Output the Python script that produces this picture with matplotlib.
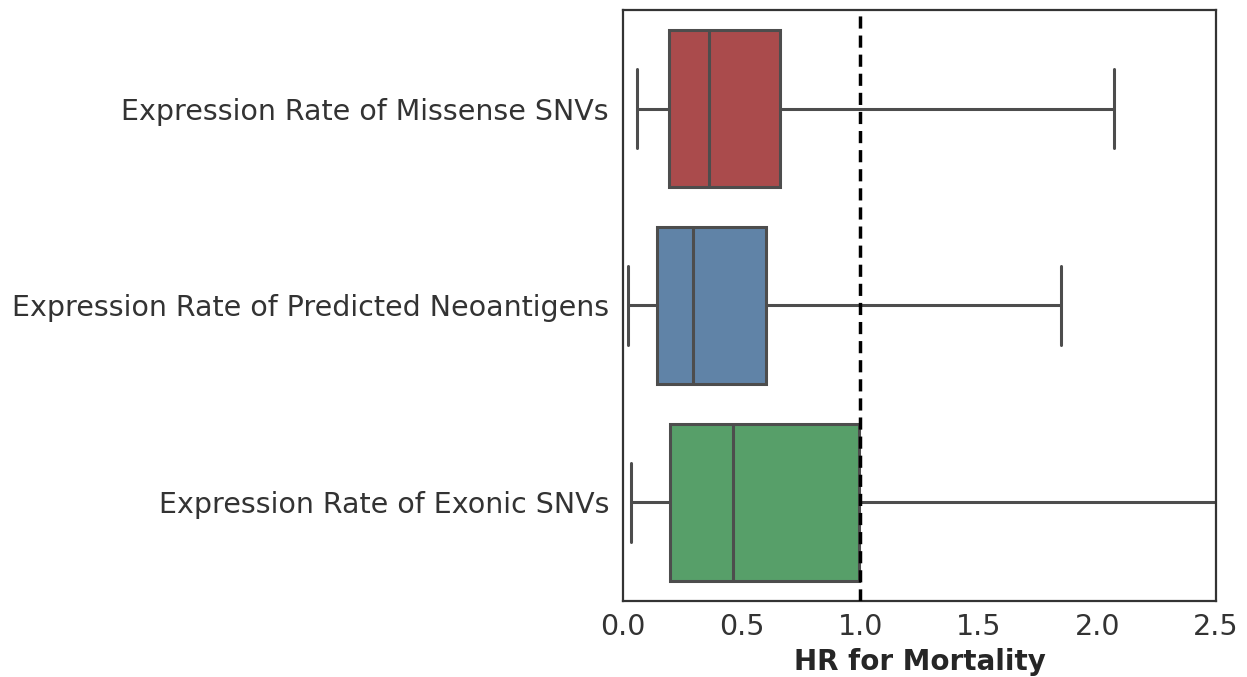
import matplotlib
matplotlib.use("Agg")
import matplotlib.pyplot as plt
import seaborn as sns

labels = ["Expression Rate of Missense SNVs",
          "Expression Rate of Predicted Neoantigens",
          "Expression Rate of Exonic SNVs"]
whislo = [0.059, 0.021, 0.034]
q1 = [0.194, 0.143, 0.198]
med = [0.363, 0.295, 0.464]
q3 = [0.662, 0.603, 0.995]
whishi = [2.07, 1.847, 2.9]
xticks = [0.0, 0.5, 1.0, 1.5, 2.0, 2.5]
colors = ["#AA4B4C", "#6083A7", "#579F69"]

sns.set_style("white")
plt.rcParams['font.family'] = ['DejaVu Sans']

gray = "#4d4d4d"

stats = []
for i in range(len(labels)):
    stats.append(dict(label=labels[i], whislo=whislo[i], q1=q1[i], med=med[i],
                      q3=q3[i], whishi=whishi[i], fliers=[]))

fig = plt.figure(figsize=(12.47, 6.77), dpi=100)
ax = fig.add_axes([0.4996, 0.1123, 0.4755, 0.8729])

pos = list(range(len(labels)))
bp = ax.bxp(stats, positions=pos, vert=False, widths=0.8, patch_artist=True,
            showfliers=False,
            boxprops=dict(edgecolor=gray, linewidth=2.2),
            medianprops=dict(color=gray, linewidth=2.2),
            whiskerprops=dict(color=gray, linewidth=2.2),
            capprops=dict(color=gray, linewidth=2.2),
            capwidths=0.4)
for patch, c in zip(bp['boxes'], colors):
    patch.set_facecolor(c)

ax.axvline(1.0, color='black', linestyle=(0, (3.5, 2)), linewidth=2.5, zorder=5)

ax.set_xlim(0, 2.5)
ax.set_ylim(len(labels) - 0.5, -0.5)
ax.set_yticks(pos)
ax.set_yticklabels(labels)
ax.set_xticks(xticks)
ax.set_xticklabels(["%.1f" % t for t in xticks])
ax.tick_params(axis='y', labelsize=20.5, colors='#333333', length=0, pad=10)
ax.tick_params(axis='x', labelsize=20.5, colors='#333333', length=0, pad=9)
ax.set_xlabel("HR for Mortality", fontsize=20, fontweight='bold',
              color='#262626', labelpad=5)
for s in ax.spines.values():
    s.set_color('#333333')
    s.set_linewidth(1.6)

fig.savefig("out.png", dpi=100)
